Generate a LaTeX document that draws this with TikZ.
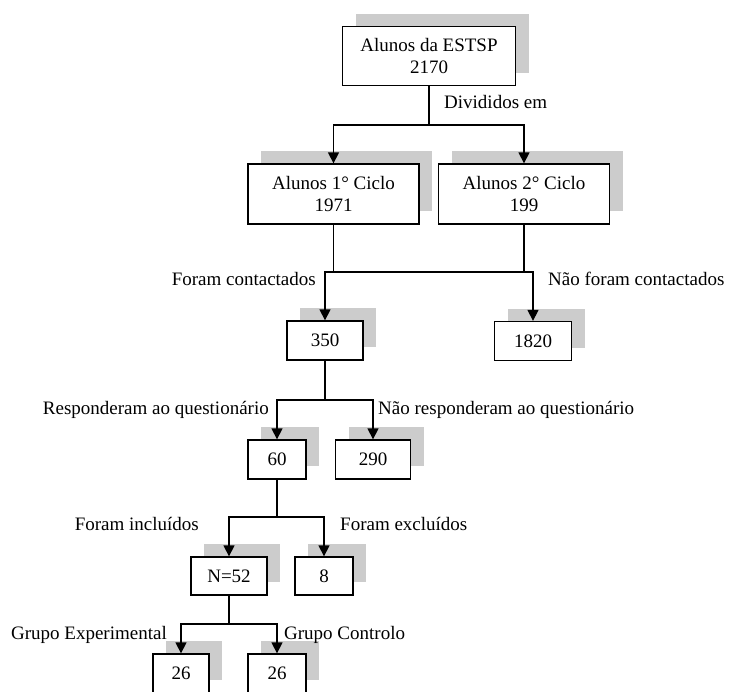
\documentclass[tikz,border=0pt]{standalone}
\usepackage{fontspec}
\setmainfont{Liberation Serif}
\usetikzlibrary{arrows.meta,shadows}
\begin{document}
\begin{tikzpicture}[x=1pt,y=-1pt,
 box/.style={draw, line width=1.3pt, fill=white, inner sep=0pt, align=center,
   font=\fontsize{19}{22}\selectfont,
   general shadow={fill=gray!40, shadow xshift=13pt, shadow yshift=13pt}},
 lbl/.style={inner sep=0pt, font=\fontsize{19}{22}\selectfont},
 conn/.style={line width=1.3pt},
 arr/.style={conn, -{Triangle[length=11pt,width=11pt]}}]
\clip (0,0) rectangle (731,691);
\useasboundingbox (0,0) rectangle (731,691);

\node[box, minimum width=173pt, minimum height=59pt] (top) at (429,56) {Alunos da ESTSP\\2170};
\node[box, minimum width=171pt, minimum height=60pt] (c1) at (333.5,194) {Alunos 1° Ciclo\\1971};
\node[box, minimum width=171pt, minimum height=60pt] (c2) at (524,194) {Alunos 2° Ciclo\\199};
\node[box, minimum width=76pt, minimum height=39pt] (n350) at (325,340.5) {350};
\node[box, minimum width=77pt, minimum height=39pt] (n1820) at (533,341) {1820};
\node[box, minimum width=58pt, minimum height=39pt] (n60) at (277,459.5) {60};
\node[box, minimum width=75pt, minimum height=39pt] (n290) at (373,459.5) {290};
\node[box, minimum width=76pt, minimum height=38pt] (n52) at (229,576) {N=52};
\node[box, minimum width=58pt, minimum height=38pt] (n8) at (324,576) {8};
\node[box, minimum width=56pt, minimum height=39pt] (n26a) at (181,673.5) {26};
\node[box, minimum width=58pt, minimum height=39pt] (n26b) at (277,673.5) {26};

\coordinate (j1) at (429,125);
\draw[conn] (top.south) -- (j1);
\draw[arr] (j1) -| (c1.north);
\draw[arr] (j1) -| (c2.north);

\coordinate (j2) at (429,272);
\draw[conn] (c1.south) -- (c1.south |- j2);
\draw[conn] (c2.south) -- (c2.south |- j2);
\draw[arr] (j2) -| (n350.north);
\draw[arr] (j2) -| (n1820.north);

\coordinate (j3) at (325,400);
\draw[conn] (n350.south) -- (j3);
\draw[arr] (j3) -| (n60.north);
\draw[arr] (j3) -| (n290.north);

\coordinate (j4) at (277,517);
\draw[conn] (n60.south) -- (j4);
\draw[arr] (j4) -| (n52.north);
\draw[arr] (j4) -| (n8.north);

\coordinate (j5) at (229,624);
\draw[conn] (n52.south) -- (j5);
\draw[arr] (j5) -| (n26a.north);
\draw[arr] (j5) -| (n26b.north);

\node[lbl, anchor=mid west] (l1) at (444,106) {Divididos em};
\node[lbl, anchor=mid east] (l2) at (316,283) {Foram contactados};
\node[lbl, anchor=mid west] (l3) at (548,283) {Não foram contactados};
\node[lbl, anchor=mid east] (l4) at (269,412) {Responderam ao questionário};
\node[lbl, anchor=mid west] (l5) at (378,412) {Não responderam ao questionário};
\node[lbl, anchor=mid east] (l6) at (199,528) {Foram incluídos};
\node[lbl, anchor=mid west] (l7) at (340,528) {Foram excluídos};
\node[lbl, anchor=mid east] (l8) at (167,637) {Grupo Experimental};
\node[lbl, anchor=mid west] (l9) at (284,637) {Grupo Controlo};
\end{tikzpicture}
\end{document}
